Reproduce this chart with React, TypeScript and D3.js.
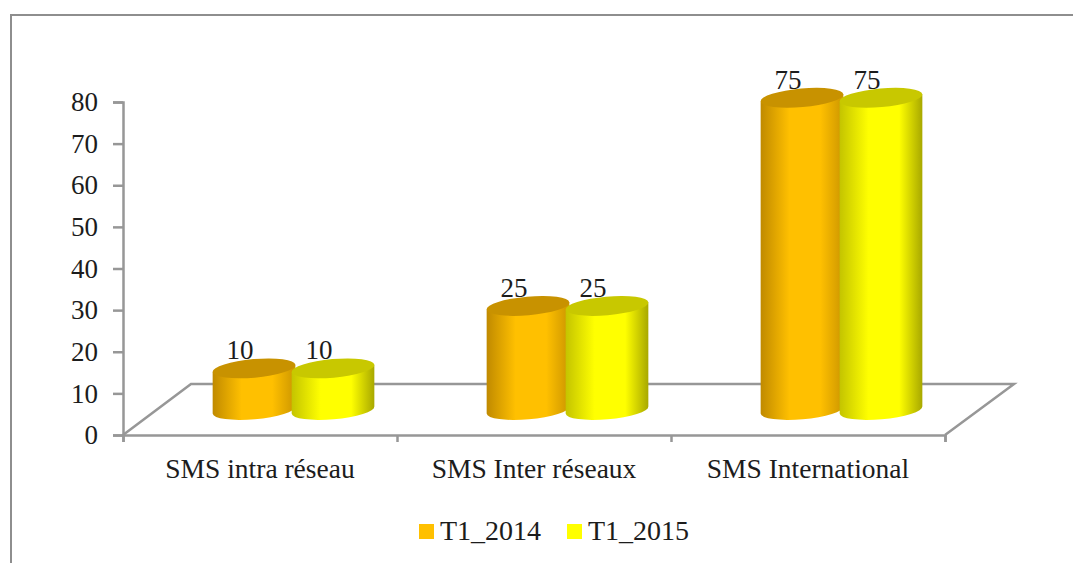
import React, { useRef, useEffect } from 'react';
import * as d3 from 'd3';

const categories = ['SMS intra réseau', 'SMS Inter réseaux', 'SMS International'];
const seriesNames = ['T1_2014', 'T1_2015'];
const valuesT1_2014 = [10, 25, 75];
const valuesT1_2015 = [10, 25, 75];
const yTicks = [0, 10, 20, 30, 40, 50, 60, 70, 80];

const FONT = '"Liberation Serif", serif';
const AXIS_COLOR = '#979797';
const TEXT_COLOR = '#1c1c1c';

// edge / mid / top colours for each series
const palette = [
    { edgeL: '#c08a00', mid: '#ffc000', edgeR: '#cc9600', top: '#c89200' },
    { edgeL: '#c4c400', mid: '#ffff00', edgeR: '#a8a800', top: '#c8c800' },
];

export default function App() {
    const svgRef = useRef<SVGSVGElement | null>(null);

    useEffect(() => {
        if (!svgRef.current) return;
        const svg = d3.select(svgRef.current);
        svg.selectAll('*').remove();

        const width = 1073;
        const height = 563;
        svg.attr('width', width).attr('height', height);

        const left = 123;
        const right = 945;
        const bottom = 435;
        const topY = 102;
        const depthX = 68; // floor offset to the back
        const depthY = 51;
        const barDx = 33.5; // bars stand in the middle of the floor depth
        const barDy = 25;

        const x = d3.scaleBand<string>().domain(categories).range([left, right]).padding(0);
        const y = d3.scaleLinear().domain([0, 80]).range([bottom, topY]);
        const xSeries = d3.scaleBand<string>().domain(seriesNames).range([-79, 79]).padding(0);
        const seriesValues = [valuesT1_2014, valuesT1_2015];

        // Frame
        svg.append('path')
            .attr('d', `M11,${height}V15H${width}`)
            .attr('fill', 'none')
            .attr('stroke', '#8e8e8e')
            .attr('stroke-width', 2);

        // Gradients
        const defs = svg.append('defs');
        palette.forEach((p, i) => {
            const g = defs.append('linearGradient').attr('id', `cyl${i}`).attr('x1', 0).attr('x2', 1).attr('y1', 0).attr('y2', 0);
            g.append('stop').attr('offset', '0%').attr('stop-color', p.edgeL);
            g.append('stop').attr('offset', '35%').attr('stop-color', p.mid);
            g.append('stop').attr('offset', '72%').attr('stop-color', p.mid);
            g.append('stop').attr('offset', '100%').attr('stop-color', p.edgeR);
        });

        // Floor
        svg.append('path')
            .attr('d', `M${left},${bottom}L${left + depthX},${bottom - depthY}H${right + depthX + 1}L${right},${bottom}`)
            .attr('fill', 'none')
            .attr('stroke', AXIS_COLOR)
            .attr('stroke-width', 2.5);

        // Axes
        const yAxis = svg.append('g')
            .attr('transform', `translate(${left},0)`)
            .call(d3.axisLeft(y).tickValues(yTicks).tickSize(10).tickPadding(15));
        yAxis.selectAll('path, line').attr('stroke', AXIS_COLOR).attr('stroke-width', 2.5);
        yAxis.selectAll('text')
            .attr('fill', TEXT_COLOR)
            .style('font-family', FONT)
            .style('font-size', '27px');

        const xEdges = d3.scaleLinear().domain([0, categories.length]).range([left, right]);
        const xAxis = svg.append('g')
            .attr('transform', `translate(0,${bottom})`)
            .call(d3.axisBottom(xEdges).tickValues(d3.range(categories.length + 1)).tickSize(7).tickFormat(() => ''));
        xAxis.selectAll('path, line').attr('stroke', AXIS_COLOR).attr('stroke-width', 2.5);

        // Category labels
        svg.selectAll('text.cat')
            .data(categories)
            .join('text')
            .attr('class', 'cat')
            .attr('x', d => (x(d) as number) + x.bandwidth() / 2)
            .attr('y', 478)
            .attr('text-anchor', 'middle')
            .attr('fill', TEXT_COLOR)
            .style('font-family', FONT)
            .style('font-size', '27.5px')
            .text(d => d);

        // Cylinders
        const rx = 41.5;
        const ry = 9.3;
        const tilt = -5;
        const sx = rx * Math.cos((tilt * Math.PI) / 180);
        const sy = rx * Math.sin((tilt * Math.PI) / 180);

        seriesNames.forEach((name, s) => {
            const p = palette[s];
            categories.forEach((cat, c) => {
                const v = seriesValues[s][c];
                const cx = (x(cat) as number) + x.bandwidth() / 2 + barDx + (xSeries(name) as number) + xSeries.bandwidth() / 2;
                const yTop = y(v) - barDy;
                const yBase = y(0) - barDy;

                svg.append('text')
                    .attr('x', cx - 14)
                    .attr('y', yTop - 9)
                    .attr('text-anchor', 'middle')
                    .attr('fill', TEXT_COLOR)
                    .style('font-family', FONT)
                    .style('font-size', '27px')
                    .text(v);

                svg.append('path')
                    .attr('d', `M${cx - sx},${yTop - sy}L${cx - sx},${yBase - sy}A${rx},${ry} ${tilt} 0 0 ${cx + sx},${yBase + sy}L${cx + sx},${yTop + sy}Z`)
                    .attr('fill', `url(#cyl${s})`);
                svg.append('ellipse')
                    .attr('cx', cx)
                    .attr('cy', yTop)
                    .attr('rx', rx)
                    .attr('ry', ry)
                    .attr('transform', `rotate(${tilt} ${cx} ${yTop})`)
                    .attr('fill', p.top);
            });
        });

        // Legend
        const legendX = d3.scaleOrdinal<string, number>().domain(seriesNames).range([419, 567]);
        seriesNames.forEach((name, s) => {
            const lx = legendX(name);
            svg.append('rect')
                .attr('x', lx)
                .attr('y', 524)
                .attr('width', 15)
                .attr('height', 15)
                .attr('fill', palette[s].mid);
            svg.append('text')
                .attr('x', lx + 21)
                .attr('y', 540)
                .attr('fill', TEXT_COLOR)
                .style('font-family', FONT)
                .style('font-size', '28px')
                .text(name);
        });
    }, []);

    return (
        <div style={{ position: 'absolute', left: 0, top: 0, background: '#fff' }}>
            <svg ref={svgRef} style={{ display: 'block' }}></svg>
        </div>
    );
}
